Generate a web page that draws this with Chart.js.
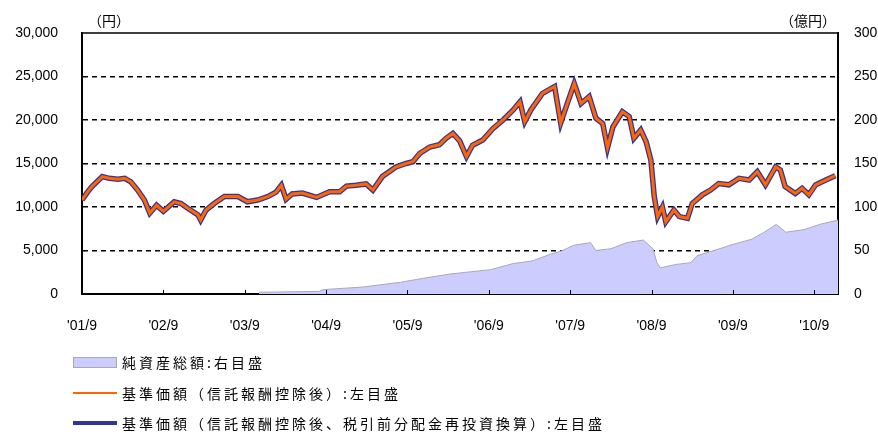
<!DOCTYPE html>
<html>
<head>
<meta charset="utf-8">
<script src="https://cdn.jsdelivr.net/npm/chart.js@4"></script>
<style>
body { margin: 0; background: #fff; }
#wrap { position: relative; width: 878px; height: 434px; }
#legend { position: absolute; left: 73px; top: 347px; font-family: "Noto Sans CJK JP", sans-serif; font-size: 14px; letter-spacing: 3px; color: #000; }
.row { display: flex; align-items: center; height: 30.5px; }
.sw { width: 44px; margin-right: 5px; }
</style>
</head>
<body>
<div id="wrap">
<canvas id="chart" width="878" height="434"></canvas>
<div id="legend"></div>
</div>
<script>
// months counted from 2001/9
const tickLabels = ["'01/9", "'02/9", "'03/9", "'04/9", "'05/9", "'06/9", "'07/9", "'08/9", "'09/9", "'10/9"]

const navMonths = [0, 0.7, 1.4, 2.2, 3, 4, 5.3, 6.3, 7.2, 8.2, 9.2, 10, 11, 12, 13.6, 14.6, 15.6, 17.1, 17.5, 18.3,
    19.5, 21, 23, 24.4, 25.9, 27.4, 28.6, 29.4, 30.1, 31, 32.5, 34.6, 36.5, 38, 39, 40.4, 41.9, 42.9, 44.3, 46.3,
    47.8, 48.8, 49.8, 51.3, 52.7, 53.7, 54.7, 55.7, 56.7, 57.6, 59.1, 60.6, 62.1, 63.6, 64.6, 65.3, 66.2, 67.9, 69.7, 70.6,
    71.4, 72.6, 73.6, 74.8, 75.8, 76.8, 77.5, 78.3, 79.7, 80.7, 81.4, 82.4, 83.2, 83.9, 84.4, 84.9, 85.6, 86.1, 87.3, 88.1,
    89.3, 90, 91.5, 92.7, 93.9, 95.4, 96.9, 98.4, 99.6, 100.8, 102.3, 103, 103.7, 105.2, 106.2, 107.2, 108.2, 109.7, 111.1]
// 基準価額(信託報酬控除後)
const navValues = [10800, 11600, 12300, 12900, 13500, 13300, 13200, 13300, 12900, 11950, 10800, 9300, 10200, 9500, 10600, 10400, 9850, 9100, 8500, 9650,
    10400, 11200, 11200, 10600, 10800, 11200, 11700, 12500, 10900, 11500, 11600, 11100, 11750, 11750, 12400, 12500, 12650, 11950, 13500, 14600,
    15000, 15200, 16150, 16900, 17150, 17900, 18450, 17600, 15800, 17100, 17700, 19000, 20000, 21150, 22100, 19800, 21150, 23050, 23850, 19650,
    21500, 24200, 21900, 22700, 20200, 19600, 16800, 19200, 20950, 20400, 17900, 18850, 17500, 15400, 11200, 8900, 10000, 8300, 9650, 8900,
    8700, 10400, 11400, 11950, 12700, 12550, 13300, 13100, 14050, 12550, 14600, 14250, 12350, 11550, 12150, 11400, 12550, 13100, 13600]
// 基準価額(信託報酬控除後、税引前分配金再投資換算)
const navReinvValues = [10800, 11600, 12300, 12900, 13500, 13300, 13200, 13300, 12900, 11950, 10800, 9300, 10200, 9500, 10600, 10400, 9850, 9100, 8500, 9650,
    10400, 11200, 11200, 10600, 10800, 11200, 11700, 12500, 10900, 11500, 11600, 11100, 11750, 11750, 12400, 12500, 12650, 11950, 13500, 14600,
    15000, 15200, 16150, 16900, 17150, 17900, 18450, 17600, 15800, 17100, 17700, 19000, 20000, 21150, 22100, 19800, 21150, 23050, 23850, 19650,
    21500, 24200, 21900, 22700, 20200, 19600, 16800, 19200, 20950, 20400, 17900, 18850, 17500, 15400, 11200, 8900, 10000, 8300, 9650, 8900,
    8700, 10400, 11400, 11950, 12700, 12550, 13300, 13100, 14050, 12550, 14600, 14250, 12350, 11550, 12150, 11400, 12550, 13100, 13600]

// 純資産総額 (億円)
const assetMonths = [26.1, 35, 35.5, 41.4, 47, 50.3, 54.3, 60.3, 63.6, 66.4, 69.2, 70.9, 72.5, 75, 75.8, 78, 80.3, 82.8, 84.2, 84.8,
    85.3, 87.6, 89.8, 90.7, 93.2, 96, 98.8, 100.4, 102.4, 103.8, 106.5, 108.8, 111.5]
const assetValues = [2, 3, 5, 8, 13.5, 18, 23, 28, 35, 38, 46, 50, 56, 59, 50, 52, 59, 62, 52, 36,
    30, 34, 36, 44, 50, 57, 63, 70, 80, 71, 74, 80, 85]

const toPoints = (xs, ys) => xs.map((x, i) => ({ x: x, y: ys[i] }))

const tickFont = { family: "Liberation Sans", size: 14 }

// frame line at the top + small inward ticks on the x axis
const framePlugin = {
    id: 'frame',
    afterDraw(chart) {
        const c = chart.ctx
        const a = chart.chartArea
        c.save()
        c.strokeStyle = '#000'
        c.lineWidth = 1.5
        c.beginPath()
        c.moveTo(a.left, a.top)
        c.lineTo(a.right, a.top)
        c.stroke()
        c.lineWidth = 1
        chart.scales.x.ticks.forEach(t => {
            const px = Math.round(chart.scales.x.getPixelForValue(t.value)) + 0.5
            c.beginPath()
            c.moveTo(px, a.bottom)
            c.lineTo(px, a.bottom - 4)
            c.stroke()
        })
        c.font = '14px "Noto Sans CJK JP"'
        c.fillStyle = '#000'
        c.textBaseline = 'middle'
        c.fillText('（円）', a.left + 6, 21)
        c.fillText('（億円）', a.right - 58, 21)
        c.restore()
    }
}

const ctx = document.getElementById('chart').getContext('2d')
const myChart = new Chart(ctx, {
    data: {
        datasets: [{
            type: 'line',
            label: '純資産総額:右目盛',
            data: toPoints(assetMonths, assetValues),
            yAxisID: 'y1',
            fill: 'origin',
            backgroundColor: '#ccccff',
            borderColor: '#a9a9b4',
            borderWidth: 1,
            pointRadius: 0,
            order: 3
        }, {
            type: 'line',
            label: '基準価額（信託報酬控除後）:左目盛',
            data: toPoints(navMonths, navValues),
            yAxisID: 'y',
            borderColor: '#ff6600',
            borderWidth: 3,
            pointRadius: 0,
            order: 1
        }, {
            type: 'line',
            label: '基準価額（信託報酬控除後、税引前分配金再投資換算）:左目盛',
            data: toPoints(navMonths, navReinvValues),
            yAxisID: 'y',
            borderColor: '#333399',
            borderWidth: 5.5,
            pointRadius: 0,
            order: 2
        }]
    },
    options: {
        responsive: false,
        animation: false,
        layout: { padding: { top: 33, left: 0, right: 0, bottom: 0 } },
        plugins: {
            legend: { display: false },
            tooltip: { enabled: false }
        },
        scales: {
            x: {
                type: 'linear',
                min: 0,
                max: 111.5,
                afterBuildTicks: (s) => { s.ticks = tickLabels.map((l, i) => ({ value: i * 12 })) },
                afterFit: (s) => { s.height = 140 },
                grid: { display: false },
                border: { color: '#000', width: 2 },
                ticks: {
                    color: '#000',
                    font: tickFont,
                    padding: 16,
                    maxRotation: 0,
                    autoSkip: false,
                    callback: (v) => tickLabels[Math.round(v / 12)]
                }
            },
            y: {
                position: 'left',
                min: 0,
                max: 30000,
                afterFit: (s) => { s.width = 82 },
                grid: {
                    color: (c) => (c.tick.value === 0 || c.tick.value === 30000) ? 'rgba(0,0,0,0)' : '#000',
                    lineWidth: 1.5,
                    drawTicks: false
                },
                border: { color: '#000', width: 2, dash: [5, 4] },
                ticks: {
                    stepSize: 5000,
                    color: '#000',
                    font: tickFont,
                    padding: 24,
                    callback: (v) => v.toLocaleString('en-US')
                }
            },
            y1: {
                position: 'right',
                min: 0,
                max: 300,
                afterFit: (s) => { s.width = 40 },
                grid: { display: false },
                border: { color: '#000', width: 2 },
                ticks: {
                    stepSize: 50,
                    color: '#000',
                    font: tickFont,
                    padding: 8
                }
            }
        }
    },
    plugins: [framePlugin]
})

// legend below the chart, in the reference's order
const legend = document.getElementById('legend')
myChart.data.datasets.forEach((d, i) => {
    const row = document.createElement('div')
    row.className = 'row'
    let sw
    if (i === 0) {
        sw = `<div class="sw" style="height:11px;background:${d.backgroundColor};border:1px solid ${d.borderColor};box-sizing:border-box"></div>`
    } else {
        sw = `<div class="sw" style="height:${i === 1 ? 2 : 4}px;background:${d.borderColor}"></div>`
    }
    row.innerHTML = sw + `<span>${d.label}</span>`
    legend.appendChild(row)
})
</script>
</body>
</html>
